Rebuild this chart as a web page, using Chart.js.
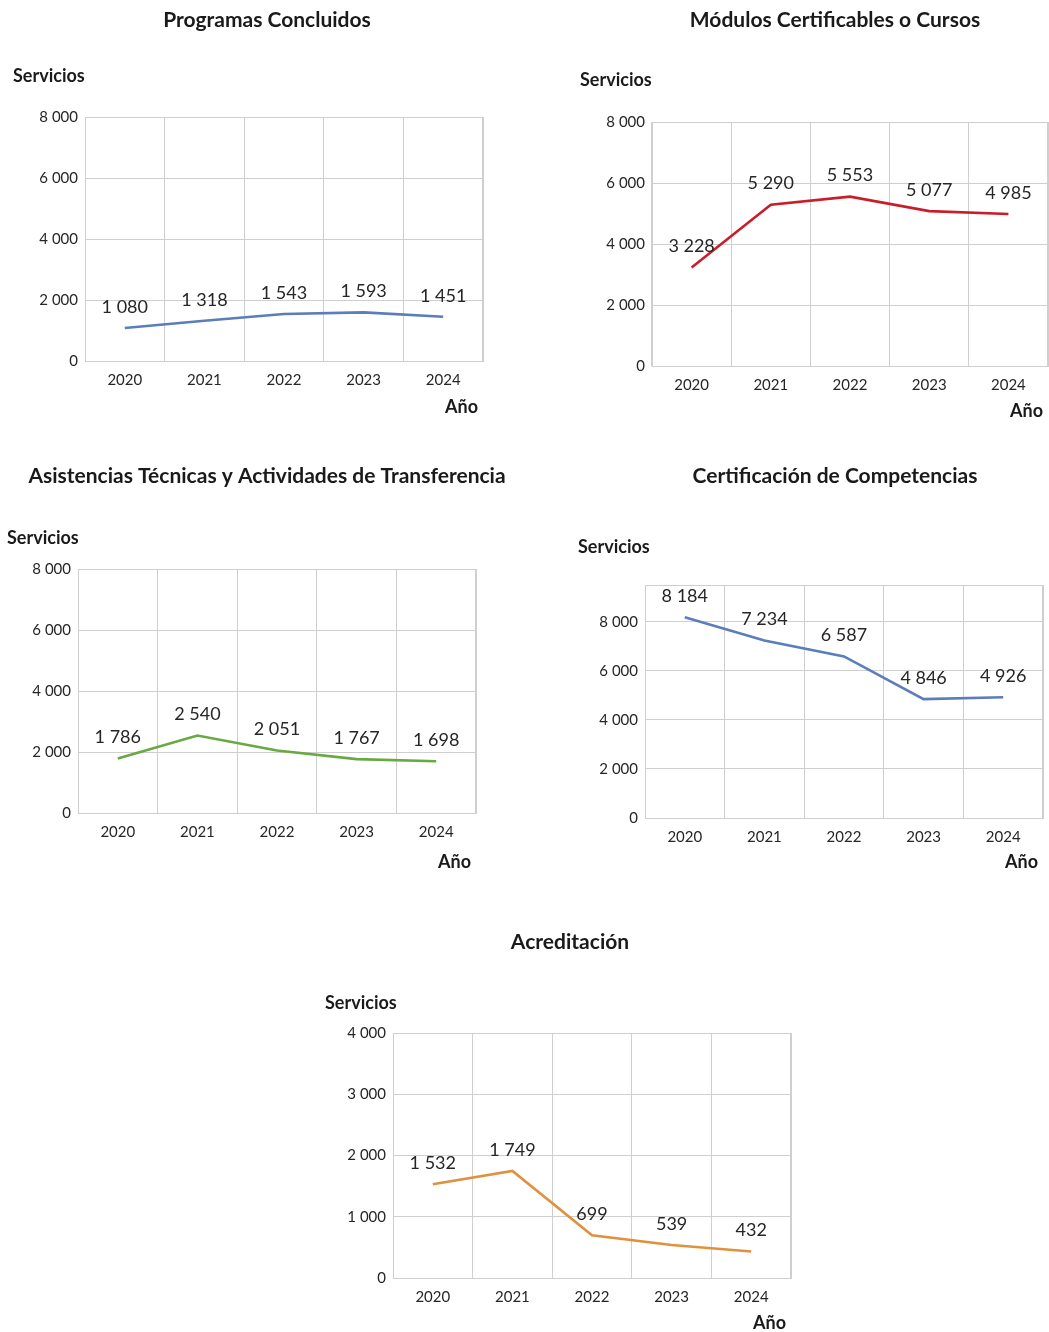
<!DOCTYPE html>
<html>
<head>
<meta charset="utf-8">
<script src="https://cdn.jsdelivr.net/npm/chart.js@4.4.1/dist/chart.umd.min.js"></script>
<style>
  body { margin: 0; background: #fff; }
  #page { position: relative; width: 1049px; height: 1332px; }
  .box { position: absolute; }
</style>
</head>
<body>
<div id="page"></div>
<script>
// data
const years = ['2020', '2021', '2022', '2023', '2024'];

const programasConcluidos = [1080, 1318, 1543, 1593, 1451];
const modulosCertificables = [3228, 5290, 5553, 5077, 4985];
const asistenciasTecnicas = [1786, 2540, 2051, 1767, 1698];
const certificacionCompetencias = [8184, 7234, 6587, 4846, 4926];
const acreditacion = [1532, 1749, 699, 539, 432];

// y tick labels
const ticksMiles8 = [0, 2000, 4000, 6000, 8000];
const ticksMiles4 = [0, 1000, 2000, 3000, 4000];

const chartTitles = [
  'Programas Concluidos',
  'Módulos Certificables o Cursos',
  'Asistencias Técnicas y Actividades de Transferencia',
  'Certificación de Competencias',
  'Acreditación'
];
const yAxisTitle = 'Servicios';
const xAxisTitle = 'Año';

const FONT = 'Lato, "Open Sans", sans-serif';

function fmt(v) {
  return String(v).replace(/\B(?=(\d{3})+(?!\d))/g, ' ');
}

// heading, "Servicios", "Año", plot frame and value labels
const extras = {
  id: 'extras',
  afterDatasetsDraw(chart, args, opts) {
    const ctx = chart.ctx;
    const a = chart.chartArea;
    ctx.save();
    ctx.strokeStyle = '#cfcfcf';
    ctx.lineWidth = 1;
    ctx.strokeRect(a.left + 0.5, a.top + 0.5, a.right - a.left - 1, a.bottom - a.top);

    ctx.fillStyle = '#1a1a1a';
    ctx.textBaseline = 'middle';
    ctx.font = 'bold 21px ' + FONT;
    ctx.textAlign = 'center';
    ctx.fillText(opts.title, opts.titleX, opts.titleY);
    ctx.font = 'bold 18px ' + FONT;
    ctx.textAlign = 'left';
    ctx.fillText(yAxisTitle, opts.subX, opts.subY);
    ctx.textAlign = 'right';
    ctx.fillText(xAxisTitle, a.right - 5, opts.anoY);

    ctx.font = '18px ' + FONT;
    ctx.fillStyle = '#262626';
    ctx.textAlign = 'center';
    const meta = chart.getDatasetMeta(0);
    meta.data.forEach((pt, i) => {
      ctx.fillText(fmt(chart.data.datasets[0].data[i]), pt.x, pt.y - 21);
    });
    ctx.restore();
  }
};

function makeChart(spec) {
  const div = document.createElement('div');
  div.className = 'box';
  div.style.left = spec.x + 'px';
  div.style.top = spec.y + 'px';
  div.style.width = spec.w + 'px';
  div.style.height = spec.h + 'px';
  const canvas = document.createElement('canvas');
  div.appendChild(canvas);
  document.getElementById('page').appendChild(div);

  const yW = 60;
  const xH = 30;
  const pad = {
    left: spec.plot[0] - spec.x - yW,
    top: spec.plot[1] - spec.y,
    right: spec.x + spec.w - spec.plot[2],
    bottom: spec.y + spec.h - spec.plot[3] - xH
  };

  new Chart(canvas, {
    type: 'line',
    data: {
      labels: years,
      datasets: [{
        data: spec.values,
        borderColor: spec.color,
        borderWidth: 2.6,
        pointRadius: 0,
        tension: 0,
        clip: false
      }]
    },
    options: {
      responsive: true,
      maintainAspectRatio: false,
      animation: false,
      layout: { padding: pad },
      plugins: {
        legend: { display: false },
        tooltip: { enabled: false },
        extras: {
          title: spec.title,
          titleX: spec.titleX - spec.x,
          titleY: spec.titleY - spec.y,
          subX: spec.subX - spec.x,
          subY: spec.subY - spec.y,
          anoY: spec.anoY - spec.y
        }
      },
      scales: {
        x: {
          offset: true,
          grid: { offset: true, color: '#cfcfcf', drawTicks: false },
          border: { color: '#cfcfcf' },
          ticks: { padding: 10, color: '#262626', font: { family: FONT, size: 15 } },
          afterFit(s) { s.height = xH; }
        },
        y: {
          min: 0,
          max: spec.max,
          grid: { color: '#cfcfcf', drawTicks: false },
          border: { color: '#cfcfcf' },
          ticks: {
            padding: 7,
            color: '#262626',
            font: { family: FONT, size: 15 },
            callback: v => fmt(v)
          },
          afterBuildTicks(s) {
            s.ticks = spec.ticks.map(v => ({ value: v }));
          },
          afterFit(s) { s.width = yW; }
        }
      }
    },
    plugins: [extras]
  });
}

makeChart({ x: 0, y: 0, w: 540, h: 425, plot: [85, 117, 483, 361], anoY: 407,
  values: programasConcluidos, color: '#5b7dbb', max: 8000, ticks: ticksMiles8,
  title: chartTitles[0], titleX: 267, titleY: 20, subX: 13, subY: 76 });

makeChart({ x: 560, y: 0, w: 489, h: 425, plot: [652, 122, 1048, 366], anoY: 411,
  values: modulosCertificables, color: '#c81e2a', max: 8000, ticks: ticksMiles8,
  title: chartTitles[1], titleX: 835, titleY: 20, subX: 580, subY: 80 });

makeChart({ x: 0, y: 440, w: 540, h: 440, plot: [78, 569, 476, 813], anoY: 862,
  values: asistenciasTecnicas, color: '#6aa842', max: 8000, ticks: ticksMiles8,
  title: chartTitles[2], titleX: 267, titleY: 476, subX: 7, subY: 538 });

makeChart({ x: 560, y: 440, w: 489, h: 440, plot: [645, 585, 1043, 818], anoY: 862,
  values: certificacionCompetencias, color: '#5b7dbb', max: 9500, ticks: ticksMiles8,
  title: chartTitles[3], titleX: 835, titleY: 476, subX: 578, subY: 547 });

makeChart({ x: 300, y: 920, w: 540, h: 412, plot: [393, 1033, 791, 1278], anoY: 1323,
  values: acreditacion, color: '#e0913f', max: 4000, ticks: ticksMiles4,
  title: chartTitles[4], titleX: 570, titleY: 942, subX: 325, subY: 1003 });
</script>
</body>
</html>
